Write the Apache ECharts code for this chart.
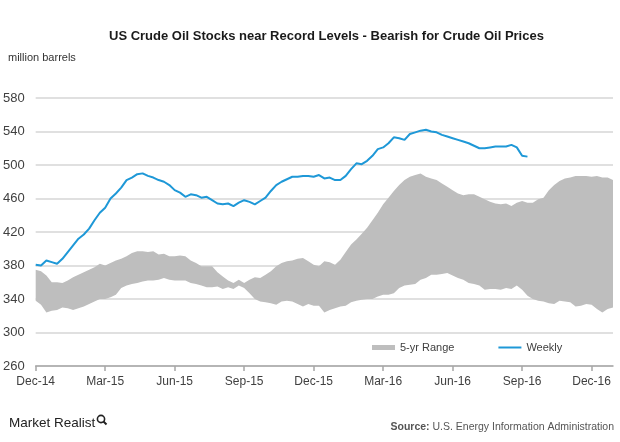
<!DOCTYPE html>
<html>
<head>
<meta charset="utf-8">
<script src="https://cdn.jsdelivr.net/npm/echarts@6/dist/echarts.min.js"></script>
<style>
html,body{margin:0;padding:0;background:#fff;}
#chart{width:620px;height:442px;}
</style>
</head>
<body>
<div id="chart"></div>
<script>
// Quarter tick labels (one every 13 weeks)
var tickLabels = ['Dec-14','Mar-15','Jun-15','Sep-15','Dec-15','Mar-16','Jun-16','Sep-16','Dec-16'];

// Weekly US crude oil stocks (million barrels), from Dec-14 to Sep-16
var weekly = [381,380,386,384,382,388,396,404,412,417,424,434,443,449,460,466,473,482,485,489,
  490,487,485,482,480,476,470,467,462,465,464,461,462,458,454,453,454,451,455,458,
  456,453,457,461,469,476,480,483,486,486,487,487,486,488,484,485,482,482,487,495,
  502,501,505,511,519,521,526,533,532,530,537,539,541,542,540,539,536,534,532,530,
  528,526,523,520,520,521,522,522,522,524,521,511,510];

// 5-yr range: upper and lower bounds, Dec-14 to Dec-16
var rangeHigh = [375,373,368,360,360,359,362,366,369,372,375,378,382,380,383,386,388,391,395,397,
  397,396,397,393,394,391,391,392,391,386,383,379,379,379,372,367,362,359,363,359,
  363,366,365,369,373,379,383,385,386,388,389,385,381,379,385,384,381,387,396,405,
  411,418,425,434,443,453,461,469,476,482,486,488,490,486,484,482,478,474,470,466,
  464,465,465,462,459,456,454,453,454,451,455,457,455,455,459,461,470,476,481,484,
  485,487,487,487,486,487,485,485,482];
var rangeLow = [338,333,324,326,327,330,329,327,329,331,334,337,340,340,342,345,353,356,358,359,
  361,362,362,363,365,363,362,362,362,359,358,356,354,354,355,352,354,352,356,353,
  347,340,337,336,335,333,337,338,337,334,331,334,332,332,324,327,329,331,332,336,
  338,339,340,340,343,345,345,347,353,356,357,358,363,365,369,369,370,371,368,365,
  363,359,358,356,351,352,352,351,353,352,356,351,344,340,338,337,335,334,338,337,
  336,331,332,334,333,328,324,328,330];

var weeks = [];
for (var i = 0; i < rangeHigh.length; i++) weeks.push(String(i));
var rangeSpan = rangeHigh.map(function (h, i) { return h - rangeLow[i]; });

var FONT = '"Liberation Sans", Arial, sans-serif';
var chart = echarts.init(document.getElementById('chart'), null, {renderer: 'canvas'});
chart.setOption({
  animation: false,
  backgroundColor: '#ffffff',
  title: {
    text: 'US Crude Oil Stocks near Record Levels - Bearish for Crude Oil Prices',
    left: 104, top: 25,
    textStyle: {fontFamily: FONT, fontSize: 13, fontWeight: 'bold', color: '#1a1a1a'}
  },
  legend: {
    left: 372, top: 342, padding: 0,
    itemWidth: 23, itemHeight: 5, itemGap: 43,
    textStyle: {fontFamily: FONT, fontSize: 11, color: '#404040'},
    data: [
      {name: '5-yr Range', icon: 'rect'},
      {name: 'Weekly', itemStyle: {opacity: 0}}
    ]
  },
  grid: {left: 35, right: 7, top: 98, bottom: 76, containLabel: false},
  xAxis: {
    type: 'category',
    boundaryGap: false,
    data: weeks,
    axisLine: {lineStyle: {color: '#a6a6a6', width: 1.5}},
    axisTick: {show: true, length: 5, lineStyle: {color: '#a6a6a6', width: 1.5},
      interval: function (idx) { return idx % 13 === 0; }},
    axisLabel: {
      interval: function (idx) { return idx % 13 === 0; },
      formatter: function (v, idx) { return tickLabels[idx / 13] || ''; },
      fontFamily: FONT, fontSize: 12, color: '#404040', margin: 10
    },
    splitLine: {show: false}
  },
  yAxis: {
    type: 'value',
    min: 260, max: 580, interval: 40,
    axisLine: {show: false},
    axisTick: {show: false},
    axisLabel: {fontFamily: FONT, fontSize: 13, color: '#404040', margin: 11},
    splitLine: {lineStyle: {color: '#d6d6d6', width: 1.5}}
  },
  series: [
    {
      name: 'rangeBase', type: 'line', stack: 'band', data: rangeLow,
      symbol: 'none', silent: true,
      lineStyle: {opacity: 0, width: 0}
    },
    {
      name: '5-yr Range', type: 'line', stack: 'band', data: rangeSpan,
      symbol: 'none', silent: true, color: '#bebebe',
      itemStyle: {color: '#bebebe'},
      lineStyle: {opacity: 0, width: 0},
      areaStyle: {color: '#bebebe', opacity: 1}
    },
    {
      name: 'Weekly', type: 'line', data: weekly,
      symbol: 'none', color: '#1e98d7',
      lineStyle: {color: '#1e98d7', width: 2}
    }
  ],
  graphic: [
    {type: 'text', left: 8, top: 52,
      style: {text: 'million barrels', font: '11px ' + FONT, fill: '#333333'}},
    {type: 'text', left: 9, top: 416,
      style: {text: 'Market Realist', font: '13.5px ' + FONT, fill: '#222222'}},
    {type: 'circle', shape: {cx: 101, cy: 419, r: 3.6},
      style: {fill: 'none', stroke: '#222222', lineWidth: 1.6}},
    {type: 'line', shape: {x1: 103.5, y1: 421.5, x2: 106.5, y2: 424.5},
      style: {stroke: '#222222', lineWidth: 2}},
    {type: 'text', right: 6, top: 422,
      style: {text: '{b|Source:} U.S. Energy Information Administration',
        font: '10.5px ' + FONT, fill: '#555555',
        rich: {b: {fontWeight: 'bold', fontSize: 10.5, fontFamily: FONT, fill: '#555555'}}}}
  ]
});
</script>
</body>
</html>
